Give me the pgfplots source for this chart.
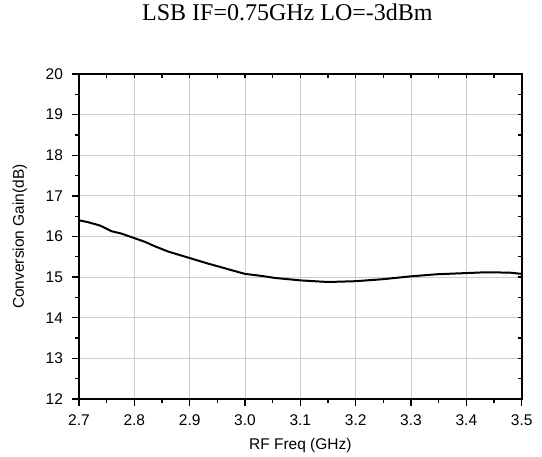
\documentclass[border=0pt]{standalone}
\usepackage{pgfplots}
\pgfplotsset{compat=1.18}
\usepackage{fontspec}
\setmainfont{Liberation Sans}
\newfontfamily\timesfont{Liberation Serif}
\begin{document}
\begin{tikzpicture}
\pgfplotsset{
  every axis y label/.style={at={(axis description cs:-0.1333,0.5)}, rotate=90, anchor=center},
  every axis x label/.style={at={(axis description cs:0.5,0)}, anchor=base, yshift=-50bp},
}
\begin{axis}[
  at={(0,0)}, anchor=south west,
  scale only axis, width=442.7bp, height=325bp,
  xmin=2.7, xmax=3.5, ymin=12, ymax=20,
  xtick={2.7,2.8,2.9,3.0,3.1,3.2,3.3,3.4,3.5},
  ytick={12,13,14,15,16,17,18,19,20},
  minor x tick num=1, minor y tick num=1,
  tick pos=left, tick align=outside,
  major tick length=7bp, minor tick length=4bp,
  every tick/.style={black, line width=1.3bp},
  axis line style={line width=2.2bp},
  grid=major,
  major grid style={line width=0.9bp, color=black!20},
  /pgf/number format/assume math mode=true,
  ticklabel style={font=\fontsize{15.5bp}{18bp}\selectfont},
  xticklabel style={/pgf/number format/fixed, /pgf/number format/fixed zerofill, /pgf/number format/precision=1, yshift=-5bp},
  yticklabel style={xshift=-5.5bp},
  xlabel={RF Freq (GHz)},
  ylabel={Conversion Gain(dB)},
  label style={font=\fontsize{15.5bp}{18bp}\selectfont},
  title={LSB IF=0.75GHz LO=-3dBm},
  title style={at={(axis description cs:0.4707,1)}, anchor=base, yshift=47.3bp, font=\timesfont\fontsize{24bp}{28bp}\selectfont},
]
\addplot[black, line width=2bp, line join=round] coordinates {
(2.700,16.40) (2.717,16.35) (2.738,16.27) (2.747,16.21) (2.759,16.13)
(2.777,16.07) (2.800,15.96) (2.819,15.87) (2.837,15.76) (2.861,15.63)
(2.900,15.47) (2.934,15.33) (2.958,15.24) (2.976,15.17) (3.000,15.08)
(3.030,15.03) (3.054,14.98) (3.100,14.92) (3.150,14.88) (3.200,14.90)
(3.250,14.95) (3.300,15.02) (3.346,15.07) (3.400,15.10) (3.436,15.12)
(3.479,15.11) (3.500,15.08)
};
\end{axis}
\begin{axis}[
  at={(0,0)}, anchor=south west,
  scale only axis, width=442.7bp, height=325bp,
  xmin=2.7, xmax=3.5, ymin=12, ymax=20,
  xtick={2.7,2.75,2.8,2.85,2.9,2.95,3.0,3.05,3.1,3.15,3.2,3.25,3.3,3.35,3.4,3.45,3.5},
  ytick={12,12.5,13,13.5,14,14.5,15,15.5,16,16.5,17,17.5,18,18.5,19,19.5,20},
  tick pos=right, tick align=inside,
  major tick length=3.5bp,
  every tick/.style={black, line width=1.3bp},
  axis line style={line width=2.2bp},
  xticklabels={}, yticklabels={},
]
\end{axis}
\pgfresetboundingbox
\useasboundingbox (-79bp,-58bp) rectangle (463bp,399bp);
\end{tikzpicture}
\end{document}
